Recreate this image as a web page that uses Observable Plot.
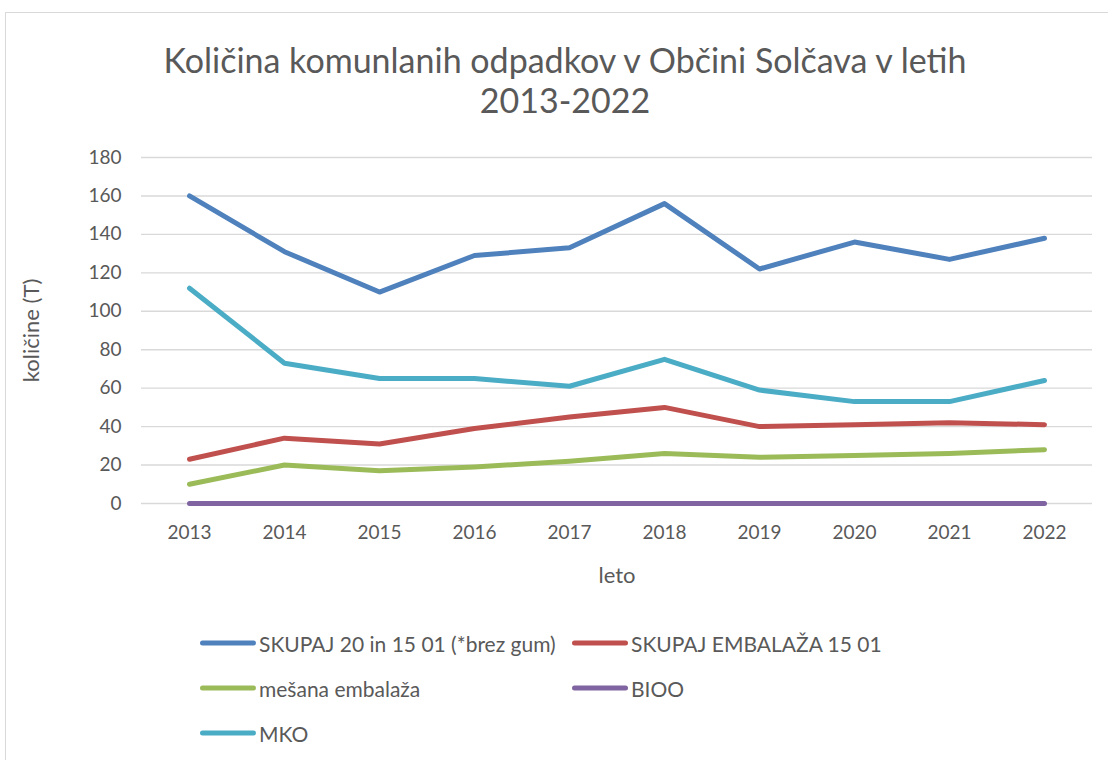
<!DOCTYPE html>
<html><head><meta charset="utf-8">
<script src="https://cdn.jsdelivr.net/npm/d3@7"></script>
<script src="https://cdn.jsdelivr.net/npm/@observablehq/plot@0.6"></script>
<style>
body{margin:0;background:#fff;font-family:Lato,sans-serif;}
#wrap{position:relative;width:1108px;height:760px;overflow:hidden;background:#fff;}
#frame{position:absolute;left:5px;top:12px;width:1200px;height:900px;border:1px solid #d9d9d9;box-sizing:border-box;}
#title{position:absolute;left:0;width:1130px;top:40px;text-align:center;font-size:34px;line-height:40px;color:#595959;}
#chart{position:absolute;left:0;top:140px;}
.item{position:absolute;display:flex;align-items:center;font-size:21px;color:#595959;white-space:nowrap;transform:translateY(-50%);}
.sw{width:56px;height:5px;border-radius:3px;margin-right:3px;}
</style></head>
<body>
<div id="wrap">
  <div id="frame"></div>
  <div id="title">Količina komunlanih odpadkov v Občini Solčava v letih<br>2013-2022</div>
  <div id="chart"></div>
  <div id="legend"></div>
</div>
<script>
const years = ["2013","2014","2015","2016","2017","2018","2019","2020","2021","2022"];
const seriesNames = ["SKUPAJ 20 in 15 01 (*brez gum)", "SKUPAJ EMBALAŽA 15 01", "mešana embalaža", "BIOO", "MKO"];
const skupaj = [160, 131, 110, 129, 133, 156, 122, 136, 127, 138];
const embalaza = [23, 34, 31, 39, 45, 50, 40, 41, 42, 41];
const mesana = [10, 20, 17, 19, 22, 26, 24, 25, 26, 28];
const bioo = [0, 0, 0, 0, 0, 0, 0, 0, 0, 0];
const mko = [112, 73, 65, 65, 61, 75, 59, 53, 53, 64];
const seriesColors = ["#4F81BD", "#C0504D", "#9BBB59", "#8064A2", "#4BACC6"];
const yTicks = [0, 20, 40, 60, 80, 100, 120, 140, 160, 180];

const seriesValues = [skupaj, embalaza, mesana, bioo, mko];
const rows = [];
seriesNames.forEach((name, i) => {
  years.forEach((yr, j) => rows.push({year: yr, value: seriesValues[i][j], series: name}));
});

const chart = Plot.plot({
  width: 1108,
  height: 450,
  marginLeft: 141,
  marginRight: 16,
  marginTop: 17,
  marginBottom: 87,
  style: {fontFamily: "Lato, sans-serif", fontSize: "19px", color: "#595959", background: "transparent"},
  x: {type: "point", domain: years, padding: 0.5},
  y: {domain: [0, 180]},
  color: {domain: seriesNames, range: seriesColors},
  marks: [
    Plot.ruleY(yTicks, {stroke: "#d9d9d9", strokeWidth: 1.4}),
    Plot.axisY({ticks: yTicks, tickSize: 0, tickPadding: 20, fontSize: 19, label: null}),
    Plot.axisX({tickSize: 0, tickPadding: 22, fontSize: 19, label: null}),
    Plot.axisY({ticks: [], tickSize: 0, fontSize: 22, label: "količine (T)", labelAnchor: "center", labelArrow: "none", labelOffset: 118}),
    Plot.axisX({ticks: [], tickSize: 0, fontSize: 22, label: "leto", labelAnchor: "center", labelArrow: "none", labelOffset: 79}),
    Plot.line(rows, {x: "year", y: "value", z: "series", stroke: "series", strokeWidth: 5, strokeLinecap: "round", strokeLinejoin: "round"})
  ]
});
document.getElementById("chart").appendChild(chart);

// legend
const legendPos = [[200, 643], [572, 643], [200, 688], [572, 688], [200, 733]];
const legend = document.getElementById("legend");
seriesNames.forEach((name, i) => {
  const it = document.createElement("div");
  it.className = "item";
  it.style.left = legendPos[i][0] + "px";
  it.style.top = legendPos[i][1] + "px";
  const sw = document.createElement("span");
  sw.className = "sw";
  sw.style.background = seriesColors[i];
  const tx = document.createElement("span");
  tx.textContent = name;
  it.appendChild(sw); it.appendChild(tx);
  legend.appendChild(it);
});
</script>
</body></html>
